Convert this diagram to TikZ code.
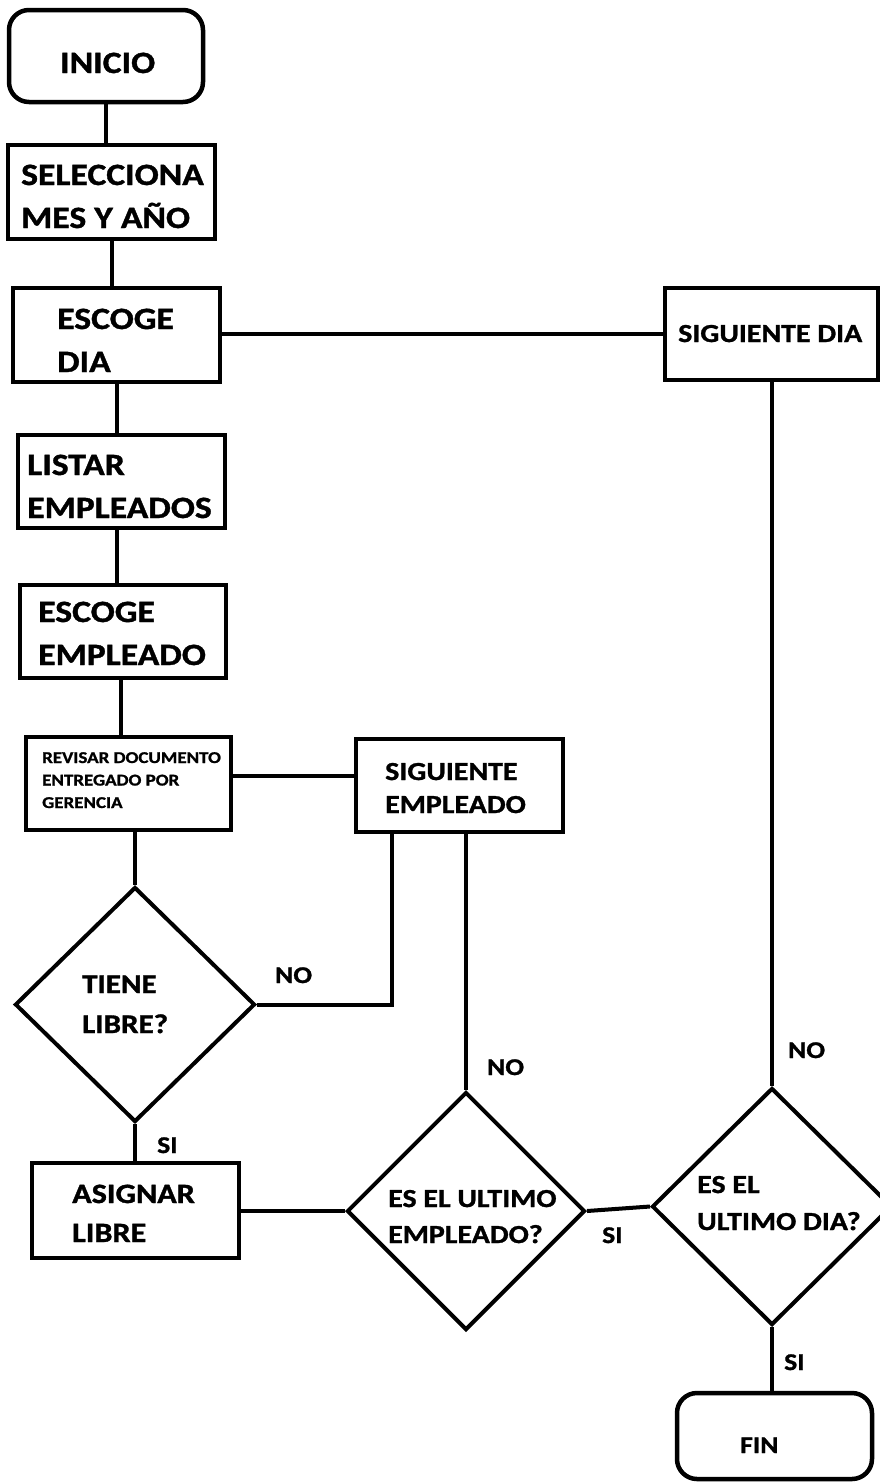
\documentclass[tikz,border=0pt]{standalone}
\usepackage{fontspec}
\setmainfont{Carlito}[FakeStretch=1.15, BoldFeatures={FakeBold=1.2}]
\usetikzlibrary{shapes.geometric}
\begin{document}
\begin{tikzpicture}[x=1pt,y=-1pt,
  box/.style={draw=black,line width=4.5pt,rectangle,inner sep=0pt},
  term/.style={box,rounded corners=20pt},
  dec/.style={draw=black,line width=4pt,diamond,inner sep=0pt,aspect=1},
  conn/.style={draw=black,line width=4pt},
  txt/.style={anchor=base west,inner sep=0pt,align=left,font=\bfseries},
  big/.style={txt,font=\bfseries\fontsize{31}{43}\selectfont},
  lab/.style={anchor=base west,inner sep=0pt,font=\bfseries\fontsize{24}{30}\selectfont}
]
\useasboundingbox (0,0) rectangle (880,1483);
\fill[white] (0,0) rectangle (880,1483);

% boxes
\node[term, minimum width=194pt, minimum height=92pt] (ini) at (106,56) {};
\node[box, minimum width=207pt, minimum height=94pt] (sel) at (111.5,192) {};
\node[box, minimum width=207pt, minimum height=94pt] (ed) at (116.5,335) {};
\node[box, minimum width=213pt, minimum height=92pt] (sd) at (771.5,334) {};
\node[box, minimum width=207pt, minimum height=93pt] (le) at (121.5,481.5) {};
\node[box, minimum width=206pt, minimum height=93pt] (ee) at (123,631.5) {};
\node[box, minimum width=205pt, minimum height=93pt] (rv) at (128.5,783.5) {};
\node[box, minimum width=207pt, minimum height=93pt] (se) at (459.5,785.5) {};
\node[box, minimum width=207pt, minimum height=95pt] (as) at (135.5,1210.5) {};
\node[term, minimum width=195pt, minimum height=86pt] (fin) at (774.5,1436) {};
\node[dec, minimum width=240pt, minimum height=235pt] (d1) at (135,1004.5) {};
\node[dec, minimum width=238pt, minimum height=238pt] (d2) at (466,1211) {};
\node[dec, minimum width=240pt, minimum height=237pt] (d3) at (772,1206.5) {};

% texts (anchored at the baseline of the last line)
\node[big] (tini) at (60,73) {INICIO};
\node[big] (tsel) at (21,228) {SELECCIONA\\MES Y AÑO};
\node[big] (ted) at (57,372) {ESCOGE\\DIA};
\node[txt, font=\bfseries\fontsize{26}{33}\selectfont] (tsd) at (678,342) {SIGUIENTE DIA};
\node[big] (tle) at (27,518) {LISTAR\\EMPLEADOS};
\node[big] (tee) at (38,665) {ESCOGE\\EMPLEADO};
\node[txt, font=\bfseries\fontsize{16.5}{22.5}\selectfont] (trv) at (42,808) {REVISAR DOCUMENTO\\ENTREGADO POR\\GERENCIA};
\node[txt, font=\bfseries\fontsize{26}{33}\selectfont] (tse) at (385,813) {SIGUIENTE\\EMPLEADO};
\node[txt, font=\bfseries\fontsize{27}{40}\selectfont] (td1) at (82,1033) {TIENE\\LIBRE?};
\node[txt, font=\bfseries\fontsize{28}{39}\selectfont] (tas) at (72,1242) {ASIGNAR\\LIBRE};
\node[txt, font=\bfseries\fontsize{26}{36}\selectfont] (td2) at (388,1243) {ES EL ULTIMO\\EMPLEADO?};
\node[txt, font=\bfseries\fontsize{26}{37}\selectfont] (td3) at (697,1230) {ES EL\\ULTIMO DIA?};
\node[txt, font=\bfseries\fontsize{24}{30}\selectfont] (tfin) at (740,1453) {FIN};

% labels
\node[lab] (lno1) at (275,983) {NO};
\node[lab] (lno2) at (487,1075) {NO};
\node[lab] (lno3) at (788,1058) {NO};
\node[lab] (lsi1) at (157,1153) {SI};
\node[lab] (lsi2) at (602,1243) {SI};
\node[lab] (lsi3) at (784,1370) {SI};

% connectors
\draw[conn] (ini.south) -- (ini.south |- sel.north);
\draw[conn] (sel.south) -- (sel.south |- ed.north);
\draw[conn] (ed.south) -- (ed.south |- le.north);
\draw[conn] (117,0 |- le.south) -- (117,0 |- ee.north);
\draw[conn] (121,0 |- ee.south) -- (121,0 |- rv.north);
\draw[conn] (rv.east |- 0,776) -- (se.west |- 0,776);
\draw[conn] (d1.north |- rv.south) -- (d1.north);
\draw[conn] (ed.east |- 0,334) -- (sd.west |- 0,334);
\draw[conn] (d3.north |- sd.south) -- (d3.north);
\draw[conn] (d1.east) -| (392,0 |- se.south);
\draw[conn] (d2.north |- se.south) -- (d2.north);
\draw[conn] (d1.south) -- (d1.south |- as.north);
\draw[conn] (as.east |- d2.west) -- (d2.west);
\draw[conn] (d2.east) -- (d3.west);
\draw[conn] (d3.south) -- (d3.south |- fin.north);
\end{tikzpicture}
\end{document}
